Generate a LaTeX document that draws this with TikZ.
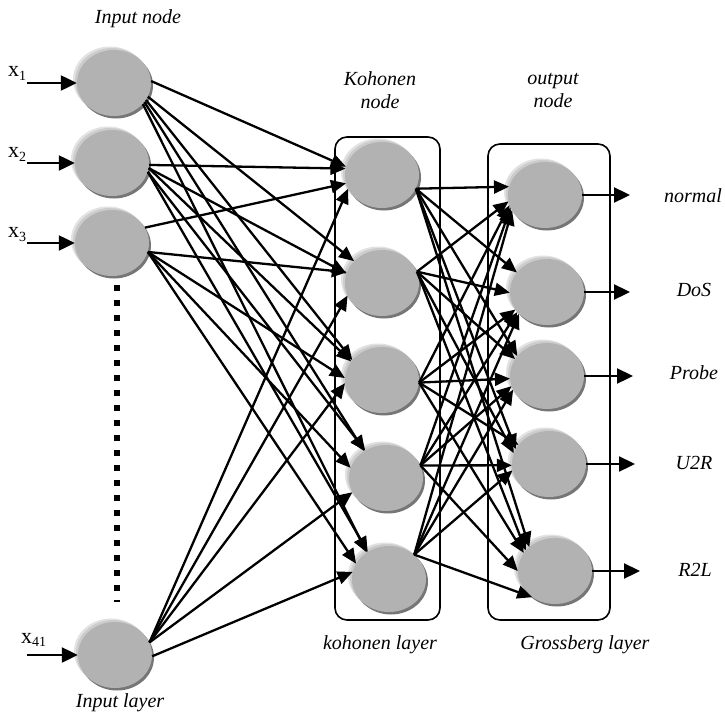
\documentclass[tikz,border=0pt]{standalone}
\usepackage{fontspec}
\setmainfont{Liberation Serif}
\usetikzlibrary{arrows.meta,shapes.geometric,shadows}
\definecolor{bodygray}{RGB}{178,178,178}
\definecolor{rimlight}{RGB}{226,226,226}
\definecolor{rimmid}{RGB}{204,204,204}
\definecolor{rimdark}{RGB}{118,118,118}
\begin{document}
\begin{tikzpicture}[x=1pt,y=-1pt,
  neuron/.style={ellipse, inner sep=0pt, minimum width=74pt, minimum height=66pt,
    fill=bodygray,
    general shadow={fill=rimlight, shadow xshift=-4pt, shadow yshift=3.5pt},
    general shadow={fill=rimmid, shadow xshift=-2pt, shadow yshift=2pt},
    general shadow={fill=rimdark, shadow xshift=2pt, shadow yshift=-2.5pt}},
  link/.style={line width=2.3pt, -{Triangle[length=15pt,width=13pt]}},
  io/.style={line width=2.3pt, -{Triangle[length=16pt,width=15pt]}},
  layerbox/.style={draw, line width=1.6pt, rounded corners=12pt},
  caption/.style={font=\fontsize{20}{24}\selectfont\itshape, align=center, inner sep=0pt},
  xlabel/.style={font=\fontsize{22}{26}\selectfont, anchor=base west, inner sep=0pt},
]
\useasboundingbox (0,0) rectangle (725,717);
\fill[white] (0,0) rectangle (725,717);

% layer frames
\draw[layerbox] (335,137) rectangle (440,620);
\draw[layerbox] (488,144) rectangle (610,620);

% ellipsis between input 3 and input 41
\draw[line width=5.5pt, dash pattern=on 6pt off 9pt] (117,285) -- (117,602);

% input layer
\node[neuron] (I1)  at (114,83)  {};
\node[neuron] (I2)  at (112,163) {};
\node[neuron] (I3)  at (112,243) {};
\node[neuron] (I41) at (115,655) {};

% Kohonen layer
\node[neuron] (K1) at (382,175) {};
\node[neuron] (K2) at (382,283) {};
\node[neuron] (K3) at (382,380) {};
\node[neuron] (K4) at (386,478) {};
\node[neuron] (K5) at (389,579) {};

% Grossberg (output) layer
\node[neuron] (O1) at (545,195) {};
\node[neuron] (O2) at (547,292) {};
\node[neuron] (O3) at (547,376) {};
\node[neuron] (O4) at (549,464) {};
\node[neuron] (O5) at (555,571) {};

% captions
\node[caption] (capin)  at (138,19)  {Input node};
\node[caption] (capinl) at (120,703) {Input layer};
\node[caption] (capk)   at (380,90)  {Kohonen\\[-1pt]node};
\node[caption] (capkl)  at (380,645) {kohonen layer};
\node[caption] (capo)   at (553,90)  {output\\[-1pt]node};
\node[caption] (capol)  at (585,645) {Grossberg layer};

% input labels and arrows
\node[xlabel] (xl1)  at (8,76)   {x\raisebox{-4pt}{\fontsize{14}{14}\selectfont 1}};
\node[xlabel] (xl2)  at (8,157)  {x\raisebox{-4pt}{\fontsize{14}{14}\selectfont 2}};
\node[xlabel] (xl3)  at (8,237)  {x\raisebox{-4pt}{\fontsize{14}{14}\selectfont 3}};
\node[xlabel] (xl41) at (21,643) {x\raisebox{-3pt}{\fontsize{14}{14}\selectfont 41}};
\coordinate (s1)  at (27,83);
\coordinate (s2)  at (27,163);
\coordinate (s3)  at (27,243);
\coordinate (s41) at (27,655);
\draw[io] (s1) -- (I1.west);
\draw[io] (s2) -- (I2.west);
\draw[io] (s3) -- (I3.west);
\draw[io] (s41) -- (I41.west);

% output arrows and class labels
\coordinate (e1) at (630,195);
\coordinate (e2) at (630,292);
\coordinate (e3) at (633,376);
\coordinate (e4) at (635,464);
\coordinate (e5) at (640,571);
\draw[io] (O1.east) -- (e1);
\draw[io] (O2.east) -- (e2);
\draw[io] (O3.east) -- (e3);
\draw[io] (O4.east) -- (e4);
\draw[io] (O5.east) -- (e5);
\node[caption] (c1) at (693,196) {normal};
\node[caption] (c2) at (694,290) {DoS};
\node[caption] (c3) at (694,373) {Probe};
\node[caption] (c4) at (694,463) {U2R};
\node[caption] (c5) at (695,570) {R2L};

% input -> Kohonen weights
\foreach \s/\t in {I1.3/K1.167, I1.-22/K2.142, I1.-28/K3.146, I1.-32/K4.129, I1.-36/K5.130,
                   I2.-3/K1.170, I2.-8/K2.165, I2.-8/K3.149, I2.-14/K4.127, I2.-14/K5.128,
                   I3.25/K1.193, I3.-14/K2.163, I3.-14/K3.177, I3.-14/K4.164, I3.-14/K5.155,
                   I41.20/K1.202, I41.20/K2.200, I41.20/K3.185, I41.20/K4.203, I41.-2/K5.169}
  \draw[link] (\s) -- (\t);

% Kohonen -> Grossberg weights
\foreach \s/\t in {K1.-22/O1.167, K1.-22/O2.147, K1.-22/O3.146, K1.-22/O4.156, K1.-22/O5.137,
                   K2.18/O1.190, K2.18/O2.181, K2.18/O3.152, K2.18/O4.163, K2.18/O5.145,
                   K3.-4/O1.196, K3.-4/O2.209, K3.-4/O3.184, K3.-4/O4.148, K3.-4/O5.150,
                   K4.20/O1.200, K4.20/O2.214, K4.20/O3.196, K4.20/O4.182, K4.20/O5.180,
                   K5.44/O1.205, K5.44/O2.218, K5.44/O3.202, K5.44/O4.190, K5.44/O5.229}
  \draw[link] (\s) -- (\t);
\end{tikzpicture}
\end{document}
